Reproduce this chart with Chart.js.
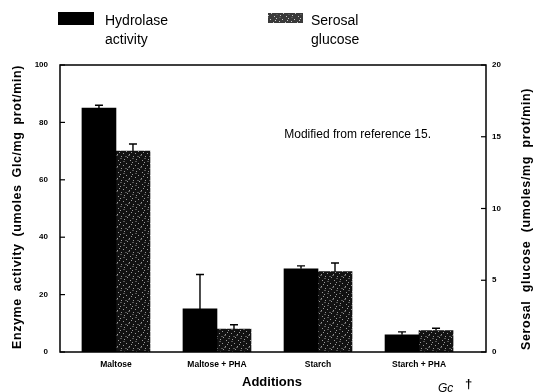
<!DOCTYPE html>
<html>
<head>
<meta charset="utf-8">
<script src="https://cdn.jsdelivr.net/npm/chart.js@4.4.1/dist/chart.umd.min.js"></script>
<style>
  html, body { margin: 0; padding: 0; background: #fff; }
  #wrap { width: 537px; height: 392px; }
</style>
</head>
<body>
<div id="wrap"><canvas id="c" width="537" height="392"></canvas></div>
<script>
// Treatments along the x axis
const categories = ['Maltose', 'Maltose + PHA', 'Starch', 'Starch + PHA'];
// Hydrolase activity (umoles Glc/mg prot/min), left axis
const hydrolase = [85, 15, 29, 6];
const hydrolaseErr = [1, 12, 1, 1];
// Serosal glucose (umoles/mg prot/min), right axis
const serosal = [14.0, 1.6, 5.6, 1.5];
const serosalErr = [0.5, 0.3, 0.6, 0.15];
// Axis tick values
const leftTicks = [0, 20, 40, 60, 80, 100];
const rightTicks = [0, 5, 10, 15, 20];

// Stippled fill used for the serosal glucose bars
function makeStipple(base, dot) {
  const t = document.createElement('canvas');
  t.width = 12; t.height = 12;
  const g = t.getContext('2d');
  g.fillStyle = base;
  g.fillRect(0, 0, 12, 12);
  g.fillStyle = dot;
  const dots = [[1,0],[7,1],[4,3],[10,4],[0,6],[6,7],[3,9],[9,10],[11,8]];
  dots.forEach(([x, y]) => g.fillRect(x, y, 1, 1));
  g.fillStyle = '#555';
  [[3,5],[8,11],[0,2],[5,0]].forEach(([x, y]) => g.fillRect(x, y, 2, 1));
  return g.createPattern(t, 'repeat');
}

const ctx0 = document.getElementById('c').getContext('2d');
const stipple = makeStipple('#121212', '#9a9a9a');
const stippleKey = makeStipple('#3a3a3a', '#c8c8c8');

const FONT = "'Liberation Sans', Arial, sans-serif";

// Draw words spread out along a given length (rotated axis titles)
function drawSpread(ctx, text, length) {
  const words = text.split(' ');
  const widths = words.map(w => ctx.measureText(w).width);
  const total = widths.reduce((a, b) => a + b, 0);
  const gap = (length - total) / (words.length - 1);
  let x = -length / 2;
  ctx.textAlign = 'left';
  words.forEach((w, i) => { ctx.fillText(w, x, 0); x += widths[i] + gap; });
}

const extras = {
  id: 'extras',
  afterDatasetsDraw(chart) {
    const ctx = chart.ctx;
    const errs = [hydrolaseErr, serosalErr];
    const vals = [hydrolase, serosal];
    ctx.save();
    ctx.strokeStyle = '#000';
    ctx.lineWidth = 1.4;
    chart.data.datasets.forEach((ds, di) => {
      const meta = chart.getDatasetMeta(di);
      const ys = chart.scales[ds.yAxisID];
      meta.data.forEach((bar, i) => {
        const top = ys.getPixelForValue(vals[di][i] + errs[di][i]);
        ctx.beginPath();
        ctx.moveTo(bar.x, bar.y);
        ctx.lineTo(bar.x, top);
        ctx.moveTo(bar.x - 4, top);
        ctx.lineTo(bar.x + 4, top);
        ctx.stroke();
      });
    });
    ctx.restore();
  },
  afterDraw(chart) {
    const ctx = chart.ctx;
    const a = chart.chartArea;
    const yl = chart.scales.y, yr = chart.scales.y2;
    ctx.save();
    // frame
    ctx.strokeStyle = '#000';
    ctx.lineWidth = 1.5;
    ctx.strokeRect(a.left, a.top, a.right - a.left, a.bottom - a.top);
    // inward tick marks
    ctx.lineWidth = 1.2;
    leftTicks.forEach(v => {
      const p = yl.getPixelForValue(v);
      ctx.beginPath(); ctx.moveTo(a.left, p); ctx.lineTo(a.left + 5, p); ctx.stroke();
    });
    rightTicks.forEach(v => {
      const p = yr.getPixelForValue(v);
      ctx.beginPath(); ctx.moveTo(a.right, p); ctx.lineTo(a.right - 5, p); ctx.stroke();
    });
    ctx.fillStyle = '#000';
    // axis titles
    ctx.font = 'bold 12.5px ' + FONT;
    if ('letterSpacing' in ctx) ctx.letterSpacing = '0.6px';
    ctx.textBaseline = 'middle';
    ctx.save();
    ctx.translate(18, 207);
    ctx.rotate(-Math.PI / 2);
    drawSpread(ctx, 'Enzyme activity (umoles Glc/mg prot/min)', 284);
    ctx.restore();
    ctx.save();
    ctx.translate(527, 219);
    ctx.rotate(-Math.PI / 2);
    drawSpread(ctx, 'Serosal glucose (umoles/mg prot/min)', 262);
    ctx.restore();
    if ('letterSpacing' in ctx) ctx.letterSpacing = '0px';
    ctx.font = 'bold 13px ' + FONT;
    ctx.textAlign = 'center';
    ctx.fillText('Additions', 272, 382);
    // note inside the plot
    ctx.font = '12px ' + FONT;
    ctx.textAlign = 'right';
    ctx.fillText('Modified from reference 15.', 431, 135);
    // handwritten mark
    ctx.font = 'italic 12px ' + FONT;
    ctx.textAlign = 'left';
    ctx.fillText('Gc', 438, 389);
    ctx.font = 'bold 13px ' + FONT;
    ctx.fillText('\u2020', 465, 384);
    // legend
    ctx.fillStyle = '#000';
    ctx.fillRect(58, 12, 36, 13);
    ctx.fillStyle = stippleKey;
    ctx.fillRect(268, 13, 35, 10);
    ctx.fillStyle = '#000';
    ctx.font = '14px ' + FONT;
    ctx.textAlign = 'left';
    ctx.fillText('Hydrolase', 105, 21);
    ctx.fillText('activity', 105, 40);
    ctx.fillText('Serosal', 311, 21);
    ctx.fillText('glucose', 311, 40);
    ctx.restore();
  }
};

const tickFont = { family: FONT, size: 8, weight: 'bold' };

new Chart(ctx0, {
  type: 'bar',
  data: {
    datasets: [
      {
        label: 'Hydrolase activity',
        data: categories.map((c, i) => ({ x: i, y: hydrolase[i] })),
        backgroundColor: '#000',
        yAxisID: 'y',
        barThickness: 34
      },
      {
        label: 'Serosal glucose',
        data: categories.map((c, i) => ({ x: i, y: serosal[i] })),
        backgroundColor: stipple,
        yAxisID: 'y2',
        barThickness: 34
      }
    ]
  },
  options: {
    responsive: false,
    animation: false,
    events: [],
    layout: { padding: { top: 65, left: 0, right: 0, bottom: 0 } },
    plugins: { legend: { display: false }, tooltip: { enabled: false } },
    scales: {
      x: {
        type: 'linear',
        offset: false,
        min: -0.554,
        max: 3.663,
        grid: { display: false, drawTicks: false },
        border: { display: false },
        afterBuildTicks: s => { s.ticks = categories.map((c, i) => ({ value: i })); },
        afterFit: s => { s.height = 40; },
        ticks: {
          autoSkip: false,
          maxRotation: 0,
          padding: 8,
          color: '#000',
          font: { family: FONT, size: 8.5, weight: 'bold' },
          callback: v => categories[v]
        }
      },
      y: {
        position: 'left',
        min: 0,
        max: 100,
        grid: { display: false, drawTicks: false },
        border: { display: false },
        afterBuildTicks: s => { s.ticks = leftTicks.map(v => ({ value: v })); },
        afterFit: s => { s.width = 60; },
        ticks: { padding: 12, color: '#000', font: tickFont }
      },
      y2: {
        position: 'right',
        min: 0,
        max: 20,
        grid: { display: false, drawTicks: false },
        border: { display: false },
        afterBuildTicks: s => { s.ticks = rightTicks.map(v => ({ value: v })); },
        afterFit: s => { s.width = 51; },
        ticks: { padding: 6, color: '#000', font: tickFont }
      }
    }
  },
  plugins: [extras]
});
</script>
</body>
</html>
